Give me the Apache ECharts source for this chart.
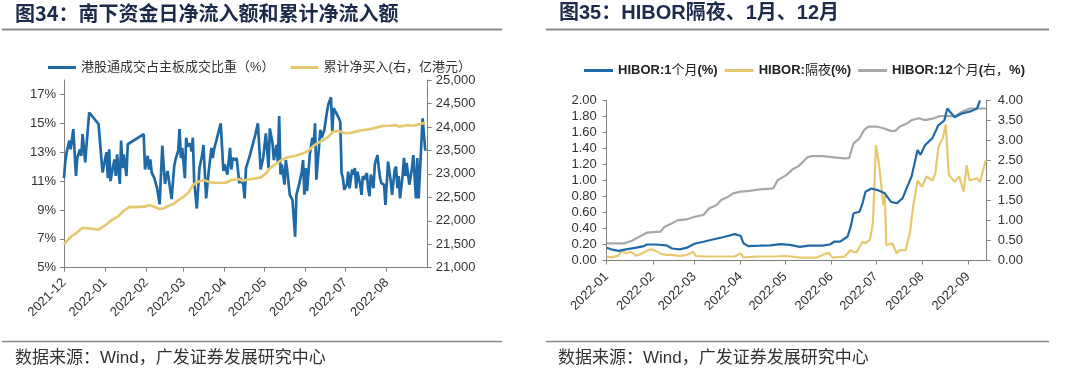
<!DOCTYPE html>
<html>
<head>
<meta charset="utf-8">
<script src="https://cdn.jsdelivr.net/npm/echarts@6/dist/echarts.min.js"></script>
<style>
html,body{margin:0;padding:0;background:#fff;}
#c{width:1080px;height:378px;}
</style>
</head>
<body>
<div id="c"></div>
<script>
// ---------- Chart 34 data ----------
const shareName = '港股通成交占主板成交比重（%）';
const cumName = '累计净买入(右，亿港元）';
const shareDates = ['2021-12-01','2021-12-02','2021-12-03','2021-12-05','2021-12-06','2021-12-08','2021-12-10','2021-12-11','2021-12-13','2021-12-14','2021-12-15','2021-12-17','2021-12-18','2021-12-20','2021-12-27','2021-12-30',
'2022-01-02','2022-01-03','2022-01-04','2022-01-05','2022-01-07','2022-01-08','2022-01-09','2022-01-10','2022-01-12','2022-01-13','2022-01-14','2022-01-15','2022-01-17','2022-01-18','2022-01-30','2022-01-31',
'2022-02-02','2022-02-03','2022-02-04','2022-02-05','2022-02-07','2022-02-09','2022-02-11','2022-02-13','2022-02-15','2022-02-17','2022-02-20','2022-02-22','2022-02-23','2022-02-25','2022-02-26','2022-02-27','2022-02-28',
'2022-03-02','2022-03-03','2022-03-04','2022-03-06','2022-03-07','2022-03-08','2022-03-09','2022-03-11','2022-03-13','2022-03-15','2022-03-16','2022-03-18','2022-03-20','2022-03-22','2022-03-23','2022-03-24','2022-03-29','2022-03-31',
'2022-04-01','2022-04-03','2022-04-05','2022-04-06','2022-04-07','2022-04-09','2022-04-10','2022-04-12','2022-04-13','2022-04-15','2022-04-16','2022-04-17','2022-04-20','2022-04-24','2022-04-26','2022-04-28','2022-04-30',
'2022-05-02','2022-05-04','2022-05-05','2022-05-07','2022-05-08','2022-05-10','2022-05-11','2022-05-12','2022-05-13','2022-05-14','2022-05-16','2022-05-17','2022-05-18','2022-05-20','2022-05-22','2022-05-24','2022-05-25','2022-05-27','2022-05-29','2022-05-30','2022-05-31',
'2022-06-01','2022-06-02','2022-06-04','2022-06-06','2022-06-07','2022-06-08','2022-06-09','2022-06-11','2022-06-12','2022-06-13','2022-06-15','2022-06-17','2022-06-18','2022-06-20','2022-06-21','2022-06-22','2022-06-24','2022-06-26','2022-06-27','2022-06-28','2022-06-29','2022-06-30',
'2022-07-02','2022-07-03','2022-07-04','2022-07-06','2022-07-07','2022-07-08','2022-07-09','2022-07-10','2022-07-12','2022-07-13','2022-07-14','2022-07-15','2022-07-17','2022-07-18','2022-07-19','2022-07-20','2022-07-22','2022-07-23','2022-07-25','2022-07-26','2022-07-27','2022-07-28','2022-07-30','2022-07-31',
'2022-08-02','2022-08-04','2022-08-05','2022-08-07','2022-08-08','2022-08-09','2022-08-10','2022-08-11','2022-08-13','2022-08-14','2022-08-15','2022-08-16','2022-08-18','2022-08-20','2022-08-21','2022-08-23','2022-08-24','2022-08-25','2022-08-26','2022-08-28','2022-08-29','2022-08-30'];
const shareValues = [11.2,12.4,13.0,13.8,13.2,14.6,11.35,12.6,13.2,12.75,14.25,12.3,13.55,15.75,14.95,11.6,
13.0,11.2,13.2,11.0,12.05,12.5,11.35,12.85,10.8,13.8,11.9,12.85,11.35,13.55,14.25,11.8,
12.75,11.8,12.5,11.6,11.2,10.55,9.4,13.45,10.8,11.7,9.75,12.05,12.5,13.1,14.6,12.6,13.3,
11.2,14.0,13.4,13.6,13.05,14.0,11.0,9.1,11.9,12.8,13.5,9.8,11.7,13.3,12.6,13.2,15.0,11.7,
12.15,11.45,13.3,11.8,12.6,12.45,12.6,10.85,11.2,10.75,9.8,11.9,12.8,14.2,15.0,11.8,12.6,
14.3,11.9,14.65,13.6,12.45,13.5,12.35,15.5,11.45,12.15,10.75,12.45,11.8,10.05,9.7,7.15,10.05,10.75,11.65,12.45,10.05,
11.9,10.3,12.8,14.0,13.5,15.0,11.1,13.4,14.55,14.0,14.55,15.8,16.3,16.8,14.45,16.05,15.7,15.35,15.1,11.55,11.2,10.4,
10.75,11.65,10.5,11.8,11.45,11.9,10.5,11.65,10.75,10.05,11.35,11.1,11.55,10.5,9.95,11.45,10.5,12.15,12.8,11.9,11.2,10.85,10.75,9.35,
12.35,11.0,10.05,11.8,12.0,10.5,11.35,9.8,11.45,12.6,11.35,12.25,10.75,11.9,12.8,9.8,12.6,9.8,9.8,15.35,15.4,13.1];
const cumDates = ['2021-12-01','2021-12-04','2021-12-07','2021-12-10','2021-12-12','2021-12-15','2021-12-19','2021-12-27','2021-12-29',
'2022-01-02','2022-01-05','2022-01-09','2022-01-11','2022-01-14','2022-01-16','2022-01-19','2022-01-23','2022-01-31',
'2022-02-03','2022-02-07','2022-02-11','2022-02-14','2022-02-18','2022-02-22','2022-02-25',
'2022-03-01','2022-03-05','2022-03-08','2022-03-11','2022-03-16','2022-03-21','2022-03-25',
'2022-04-02','2022-04-06','2022-04-12','2022-04-14','2022-04-21','2022-04-28',
'2022-05-02','2022-05-05','2022-05-10','2022-05-15','2022-05-20','2022-05-25','2022-05-30',
'2022-06-03','2022-06-07','2022-06-11','2022-06-14','2022-06-18','2022-06-21','2022-06-25','2022-06-29',
'2022-07-02','2022-07-06','2022-07-10','2022-07-14','2022-07-19','2022-07-24','2022-07-29',
'2022-08-03','2022-08-08','2022-08-10','2022-08-14','2022-08-17','2022-08-21','2022-08-25','2022-08-30'];
const cumValues = [21500,21590,21680,21730,21780,21850,21840,21810,21850,
21925,21995,22065,22100,22190,22230,22290,22290,22300,
22335,22300,22250,22265,22320,22370,22440,
22510,22610,22760,22820,22870,22820,22810,
22810,22870,22885,22855,22890,22920,
23010,23120,23225,23315,23365,23390,23440,
23490,23600,23670,23720,23790,23885,23920,23880,
23865,23880,23910,23930,23950,23985,24020,
24025,24040,24005,24025,24040,24025,24055,24090];

// ---------- Chart 35 data ----------
const h1mName = 'HIBOR:1个月(%)';
const honName = 'HIBOR:隔夜(%)';
const h12mName = 'HIBOR:12个月(右，%)';
const h1mDates = ['2022-01-01','2022-01-04','2022-01-09','2022-01-14','2022-01-21','2022-01-26','2022-01-28','2022-02-03','2022-02-10','2022-02-14','2022-02-19','2022-02-24',
'2022-03-01','2022-03-07','2022-03-14','2022-03-20','2022-03-24','2022-03-28','2022-04-01','2022-04-03','2022-04-06','2022-04-14','2022-04-21','2022-04-28',
'2022-05-04','2022-05-11','2022-05-17','2022-05-26','2022-05-31','2022-06-03','2022-06-07','2022-06-12','2022-06-14','2022-06-16','2022-06-20','2022-06-22','2022-06-24','2022-06-28',
'2022-07-02','2022-07-07','2022-07-11','2022-07-15','2022-07-19','2022-07-22','2022-07-25','2022-07-29','2022-07-31','2022-08-03','2022-08-08','2022-08-12','2022-08-16','2022-08-18','2022-08-23','2022-08-28','2022-09-02','2022-09-07','2022-09-09'];
const h1mValues = [0.16,0.14,0.12,0.14,0.16,0.18,0.20,0.20,0.19,0.15,0.14,0.16,
0.21,0.235,0.265,0.29,0.31,0.33,0.31,0.215,0.18,0.185,0.19,0.205,
0.195,0.17,0.185,0.185,0.20,0.235,0.235,0.30,0.42,0.59,0.61,0.715,0.86,0.90,
0.88,0.84,0.735,0.715,0.78,0.92,1.05,1.38,1.32,1.44,1.53,1.69,1.75,1.90,1.79,1.84,1.86,1.90,2.00];
const honDates = ['2022-01-01','2022-01-04','2022-01-09','2022-01-11','2022-01-14','2022-01-17','2022-01-21','2022-01-25','2022-01-28','2022-01-31','2022-02-03','2022-02-07','2022-02-10','2022-02-14','2022-02-19','2022-02-24','2022-02-28',
'2022-03-02','2022-03-09','2022-03-18','2022-03-28','2022-04-01','2022-04-03','2022-04-12','2022-04-24','2022-05-02','2022-05-11','2022-05-22','2022-05-30','2022-06-02','2022-06-10','2022-06-14','2022-06-16','2022-06-18','2022-06-22','2022-06-24','2022-06-27','2022-06-29',
'2022-07-01','2022-07-03','2022-07-05','2022-07-06','2022-07-07','2022-07-08','2022-07-12','2022-07-15','2022-07-17','2022-07-21','2022-07-24','2022-07-26','2022-07-29',
'2022-08-01','2022-08-04','2022-08-08','2022-08-10','2022-08-12','2022-08-15','2022-08-17','2022-08-19','2022-08-23','2022-08-26','2022-08-29','2022-08-31','2022-09-02','2022-09-07','2022-09-09','2022-09-13'];
const honValues = [0.05,0.04,0.06,0.12,0.09,0.11,0.06,0.09,0.12,0.14,0.12,0.08,0.07,0.07,0.056,0.07,0.11,
0.056,0.05,0.05,0.05,0.09,0.04,0.05,0.05,0.056,0.035,0.035,0.10,0.035,0.05,0.13,0.11,0.10,0.235,0.215,0.26,0.465,
1.44,1.215,0.88,0.69,0.82,0.19,0.215,0.09,0.13,0.13,0.36,0.67,1.0,
0.92,1.05,1.0,1.09,1.42,1.53,1.70,1.07,0.985,1.05,0.86,1.19,1.0,1.03,0.985,1.26];
const h12mDates = ['2022-01-01','2022-01-13','2022-01-18','2022-01-21','2022-01-28','2022-02-06','2022-02-09','2022-02-14','2022-02-18','2022-02-24','2022-02-28',
'2022-03-07','2022-03-11','2022-03-16','2022-03-19','2022-03-23','2022-03-27','2022-04-01','2022-04-07','2022-04-14','2022-04-23','2022-04-26',
'2022-05-02','2022-05-06','2022-05-10','2022-05-13','2022-05-16','2022-05-19','2022-05-26','2022-06-03','2022-06-10','2022-06-13','2022-06-16','2022-06-20','2022-06-23','2022-06-26',
'2022-07-02','2022-07-06','2022-07-11','2022-07-14','2022-07-17','2022-07-22','2022-07-25','2022-07-30','2022-08-03','2022-08-09','2022-08-13','2022-08-23','2022-08-28','2022-09-02','2022-09-13'];
const h12mValues = [0.43,0.43,0.495,0.555,0.695,0.72,0.845,0.93,1.01,1.03,1.08,
1.14,1.305,1.39,1.51,1.58,1.68,1.72,1.74,1.78,1.805,2.01,
2.14,2.28,2.36,2.47,2.58,2.61,2.61,2.58,2.555,2.56,2.93,3.055,3.26,3.345,
3.345,3.305,3.24,3.24,3.345,3.43,3.51,3.555,3.51,3.555,3.61,3.61,3.72,3.80,3.80];

// ---------- Texts ----------
const title34 = '图34：南下资金日净流入额和累计净流入额';
const title35 = '图35：HIBOR隔夜、1月、12月';
const sourceText = '数据来源：Wind，广发证券发展研究中心';

const BLUE = '#1f6aa6', YELLOW = '#e6c96f', GRAY = '#a8a8a8';
const AX = '#7f7f7f', LBL = '#333333';
const FONT = '"Liberation Sans", Arial, "Noto Sans CJK SC", sans-serif';

function pair(ds, vs){ return ds.map((d,i)=>[d, vs[i]]); }
function ym(v){ const d=new Date(v); return d.getFullYear()+'-'+String(d.getMonth()+1).padStart(2,'0'); }
const DAY = 86400000;

function xAxisCfg(grid, min, max, margin){
  return {type:'time', gridIndex:grid, min:min, max:max,
    minInterval:28*DAY, maxInterval:31*DAY,
    axisLine:{show:true,lineStyle:{color:AX,width:1}},
    axisTick:{show:true,length:4,lineStyle:{color:AX}},
    splitLine:{show:false},
    axisLabel:{rotate:45,fontSize:13,color:LBL,fontFamily:FONT,margin:margin,formatter:ym,hideOverlap:false}};
}
function yAxisCfg(grid, pos, min, max, interval, fmt, margin){
  return {type:'value', gridIndex:grid, position:pos, min:min, max:max, interval:interval,
    axisLine:{show:true,lineStyle:{color:AX,width:1}},
    axisTick:{show:true,length:4,lineStyle:{color:AX}},
    splitLine:{show:false},
    axisLabel:{fontSize:13,color:LBL,fontFamily:FONT,margin:margin,formatter:fmt,showMaxLabel:pos==='left'&&grid===0?false:true}};
}
// split legend text into latin (bold) and CJK (regular) runs
function richName(name){
  return name.replace(/([\x00-\x7F]+)|([^\x00-\x7F]+)/g,(m,a,b)=> a ? '{b|'+a+'}' : '{c|'+b+'}');
}

const chart = echarts.init(document.getElementById('c'), null, {renderer:'canvas'});
chart.setOption({
  animation:false,
  backgroundColor:'#ffffff',
  grid:[
    {left:64, right:1080-427.7, top:80, bottom:378-267.7, containLabel:false, outerBoundsMode:'none'},
    {left:606.7, right:1080-986.7, top:100.5, bottom:378-260.5, containLabel:false, outerBoundsMode:'none'}
  ],
  xAxis:[
    xAxisCfg(0,'2021-12-01','2022-08-31T20:00:00',13),
    xAxisCfg(1,'2022-01-01','2022-09-13T12:00:00',14)
  ],
  yAxis:[
    yAxisCfg(0,'left',5,18,2,v=>v+'%',8),
    yAxisCfg(0,'right',21000,25000,500,v=>v.toLocaleString('en-US'),8),
    yAxisCfg(1,'left',0,2,0.2,v=>v.toFixed(2),10),
    yAxisCfg(1,'right',0,4,0.5,v=>v.toFixed(2),11)
  ],
  legend:[
    {data:[shareName,cumName], left:43, top:56, itemWidth:28, itemHeight:3, itemGap:16, icon:'rect',
     textStyle:{fontSize:13,color:LBL,fontFamily:FONT}},
    {data:[h1mName,honName,h12mName], left:579, top:59, itemWidth:29, itemHeight:3, itemGap:7, icon:'rect',
     formatter:richName,
     textStyle:{fontSize:13,color:'#222',fontFamily:FONT,
       rich:{b:{fontSize:13,fontWeight:'bold',color:'#222',fontFamily:FONT},
             c:{fontSize:13,fontWeight:'normal',color:'#222',fontFamily:FONT}}}}
  ],
  series:[
    {name:shareName,type:'line',xAxisIndex:0,yAxisIndex:0,showSymbol:false,data:pair(shareDates,shareValues),
     lineStyle:{color:BLUE,width:2.7},itemStyle:{color:BLUE}},
    {name:cumName,type:'line',xAxisIndex:0,yAxisIndex:1,showSymbol:false,data:pair(cumDates,cumValues),
     lineStyle:{color:YELLOW,width:2.7},itemStyle:{color:YELLOW}},
    {name:h1mName,type:'line',xAxisIndex:1,yAxisIndex:2,showSymbol:false,data:pair(h1mDates,h1mValues),z:4,
     lineStyle:{color:BLUE,width:2.2},itemStyle:{color:BLUE}},
    {name:honName,type:'line',xAxisIndex:1,yAxisIndex:2,showSymbol:false,data:pair(honDates,honValues),z:3,
     lineStyle:{color:YELLOW,width:2.2},itemStyle:{color:YELLOW}},
    {name:h12mName,type:'line',xAxisIndex:1,yAxisIndex:3,showSymbol:false,data:pair(h12mDates,h12mValues),z:2,
     lineStyle:{color:GRAY,width:2.2},itemStyle:{color:GRAY}}
  ],
  graphic:[
    {type:'text',left:15,top:3,style:{text:title34,font:'bold 20px "Noto Sans CJK SC", sans-serif',fill:'#1d2b4a'}},
    {type:'text',left:559,top:3,style:{text:title35,font:'bold 20px "Liberation Sans", "Noto Sans CJK SC", sans-serif',fill:'#1d2b4a'}},
    {type:'line',shape:{x1:2,y1:29.5,x2:502,y2:29.5},style:{stroke:'#8a8a8a',lineWidth:2}},
    {type:'line',shape:{x1:546,y1:29.5,x2:1049,y2:29.5},style:{stroke:'#8a8a8a',lineWidth:2}},
    {type:'line',shape:{x1:2,y1:341.5,x2:502,y2:341.5},style:{stroke:'#8a8a8a',lineWidth:1.5}},
    {type:'line',shape:{x1:546,y1:341.5,x2:1049,y2:341.5},style:{stroke:'#8a8a8a',lineWidth:1.5}},
    {type:'text',left:15,top:350,style:{text:sourceText,font:'17px "Liberation Sans", "Noto Sans CJK SC", sans-serif',fill:'#333'}},
    {type:'text',left:558,top:350,style:{text:sourceText,font:'17px "Liberation Sans", "Noto Sans CJK SC", sans-serif',fill:'#333'}}
  ]
});
</script>
</body>
</html>
